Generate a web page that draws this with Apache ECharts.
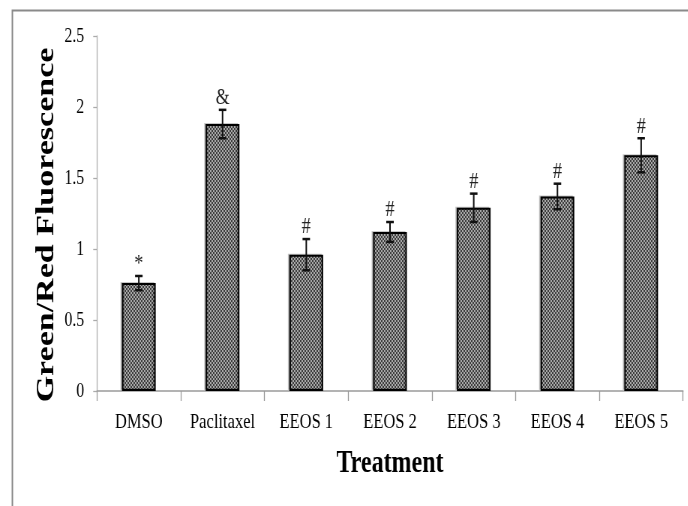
<!DOCTYPE html>
<html>
<head>
<meta charset="utf-8">
<script src="https://cdn.jsdelivr.net/npm/echarts@6/dist/echarts.min.js"></script>
<style>
  html, body { margin: 0; padding: 0; overflow: hidden; background: #fff; }
  /* condensed look: draw wide, then squeeze horizontally */
  #chart { width: 917px; height: 506px; transform: scaleX(0.75); transform-origin: 0 0; }
</style>
</head>
<body>
<div id="chart"></div>
<script>
// Treatment groups and measured green/red fluorescence ratio
const categories = ['DMSO', 'Paclitaxel', 'EEOS 1', 'EEOS 2', 'EEOS 3', 'EEOS 4', 'EEOS 5'];
const ratioValues = [0.76, 1.88, 0.96, 1.12, 1.29, 1.37, 1.66];
const ratioErrors = [0.05, 0.10, 0.11, 0.07, 0.10, 0.09, 0.12];
const significance = ['*', '&', '#', '#', '#', '#', '#'];
const yMin = 0, yMax = 2.5, yStep = 0.5;

const SERIF = '"Liberation Serif", "Times New Roman", serif';

// dotted/checkered fill used for the bars
function makeHatch() {
  const c = document.createElement('canvas');
  c.width = 4; c.height = 4;
  const g = c.getContext('2d');
  g.fillStyle = '#a8a8a8';
  g.fillRect(0, 0, 4, 4);
  g.fillStyle = '#3e3e3e';
  g.fillRect(0, 0, 2, 2);
  g.fillRect(2, 2, 2, 2);
  return c;
}

const chart = echarts.init(document.getElementById('chart'), null, { renderer: 'canvas' });

const errorData = categories.map((c, i) => [i, ratioValues[i], ratioErrors[i]]);

chart.setOption({
  animation: false,
  backgroundColor: '#fff',
  grid: { left: 129.3, right: 6.3, top: 36, bottom: 115, containLabel: false },
  xAxis: {
    type: 'category',
    data: categories,
    boundaryGap: true,
    axisLine: { lineStyle: { color: '#9a9a9a', width: 1.6 } },
    axisTick: { show: true, length: 10, lineStyle: { color: '#9a9a9a', width: 1.3 } },
    axisLabel: { margin: 20, color: '#000', fontFamily: SERIF, fontSize: 22, interval: 0 }
  },
  yAxis: {
    type: 'value',
    min: yMin, max: yMax, interval: yStep,
    splitLine: { show: false },
    axisLine: { show: true, lineStyle: { color: '#ababab', width: 1.3 } },
    axisTick: { show: true, inside: false, length: 5, lineStyle: { color: '#ababab', width: 1.3 } },
    axisLabel: { margin: 17, color: '#000', fontFamily: SERIF, fontSize: 21 }
  },
  graphic: [
    {
      type: 'polyline',
      shape: { points: [[16.5, 506], [16.5, 10.5], [917, 10.5]] },
      style: { stroke: '#8a8a8a', lineWidth: 2, fill: null },
      silent: true
    },
    {
      type: 'text',
      x: 61.9, y: 225,
      rotation: Math.PI / 2,
      style: {
        text: 'Green/Red Fluorescence',
        font: 'bold 34px ' + SERIF,
        fill: '#000',
        align: 'center',
        verticalAlign: 'middle'
      }
    },
    {
      type: 'text',
      x: 520, y: 464,
      style: {
        text: 'Treatment',
        font: 'bold 32px ' + SERIF,
        fill: '#000',
        align: 'center',
        verticalAlign: 'middle'
      }
    }
  ],
  series: [
    {
      type: 'bar',
      data: ratioValues,
      barWidth: 45,
      itemStyle: {
        color: { image: makeHatch(), repeat: 'repeat' },
        borderColor: '#000',
        borderWidth: 2,
        shadowColor: 'rgba(0,0,0,0.22)',
        shadowOffsetX: -2,
        shadowOffsetY: -1,
        shadowBlur: 0
      }
    },
    {
      type: 'custom',
      data: errorData,
      encode: { x: 0, y: 1 },
      z: 5,
      renderItem: function (params, api) {
        const idx = api.value(0);
        const v = api.value(1);
        const e = api.value(2);
        const top = api.coord([idx, v + e]);
        const bot = api.coord([idx, v - e]);
        const x = top[0];
        const hw = 5;
        return {
          type: 'group',
          children: [
            { type: 'line', shape: { x1: x, y1: top[1], x2: x, y2: bot[1] },
              style: { stroke: '#111', lineWidth: 2 } },
            { type: 'line', shape: { x1: x - hw, y1: top[1], x2: x + hw, y2: top[1] },
              style: { stroke: '#111', lineWidth: 2.5 } },
            { type: 'line', shape: { x1: x - hw, y1: bot[1], x2: x + hw, y2: bot[1] },
              style: { stroke: '#111', lineWidth: 2.5 } },
            { type: 'text', x: x, y: top[1] - 12,
              style: { text: significance[params.dataIndex], font: '24px ' + SERIF,
                       fill: '#222', align: 'center', verticalAlign: 'middle' } }
          ]
        };
      }
    }
  ]
});
</script>
</body>
</html>
